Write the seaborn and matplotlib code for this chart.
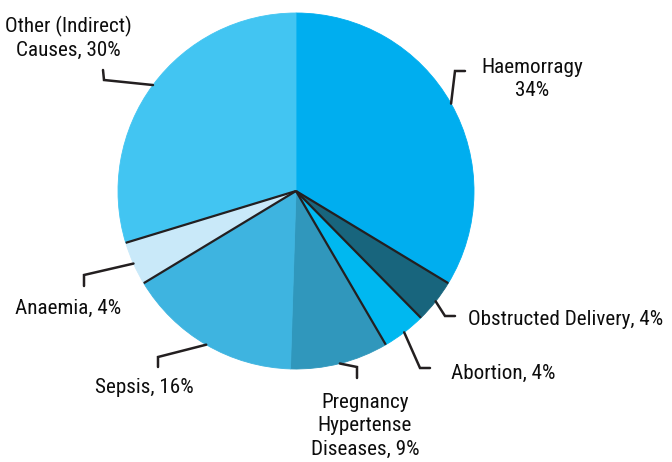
import numpy as np
import matplotlib
matplotlib.use("Agg")
import matplotlib.pyplot as plt
import seaborn as sns
from matplotlib import font_manager

categories = ["Haemorragy", "Obstructed Delivery", "Abortion",
              "Pregnancy Hypertense Diseases", "Sepsis", "Anaemia",
              "Other (Indirect) Causes"]
values = [34, 4, 4, 9, 16, 4, 30]
labels = ["Haemorragy\n34%", "Obstructed Delivery, 4%", "Abortion, 4%",
          "Pregnancy\nHypertense\nDiseases, 9%", "Sepsis, 16%", "Anaemia, 4%",
          "Other (Indirect)\nCauses, 30%"]
colors = ["#00AEEF", "#18657D", "#00B8F0", "#3097BC", "#3EB4E0", "#C9E9F9", "#42C5F2"]
# boundaries (after wedge i) that show a dark divider line
dark_after = [0, 1, 2, 4, 5]

sns.set_theme(style="white")
avail = {f.name for f in font_manager.fontManager.ttflist}
fam = [f for f in ["Roboto Condensed", "Archivo Narrow", "PT Sans Narrow"] if f in avail] + ["DejaVu Sans"]
plt.rcParams["font.family"] = fam

W, H = 672, 462
CX, CY, R = 296, 191, 178

fig = plt.figure(figsize=(W / 100, H / 100), dpi=100)
ax = fig.add_axes([0, 0, 1, 1])

def p2d(px, py):
    return ((px - CX) / R, (CY - py) / R)

wedges, _ = ax.pie(values, colors=colors, startangle=90, counterclock=False,
                   radius=1.0, center=(0, 0), frame=True,
                   wedgeprops=dict(linewidth=0.6, antialiased=True))
for w, c in zip(wedges, colors):
    w.set_edgecolor(c)
ax.set_xlim(-CX / R, (W - CX) / R)
ax.set_ylim(-(H - CY) / R, CY / R)
ax.set_aspect("equal")
ax.axis("off")

dark = "#231F20"
for i in dark_after:
    ang = np.deg2rad(wedges[i].theta1)
    ax.plot([0, np.cos(ang)], [0, np.sin(ang)], color=dark, lw=1.6,
            solid_capstyle="butt", zorder=3)

# leader line layout (elbow, end) in pixels, and text placement
leaders = [((455, 71), (465, 71)),
           ((445, 316), (455, 316)),
           ((420, 368), (430, 368)),
           ((357, 367), (357, 378)),
           ((158, 357), (158, 367)),
           ((84, 275), (84, 286)),
           ((104, 80), (103, 70))]
text_pos = [((532, 79), "center"),
            ((468, 320), "left"),
            ((451, 373), "left"),
            ((365, 426), "center"),
            ((144, 388), "center"),
            ((68, 308), "center"),
            ((68, 38), "center")]

for w, lab, (el, en), ((tx, ty), ha) in zip(wedges, labels, leaders, text_pos):
    mid = np.deg2rad((w.theta1 + w.theta2) / 2)
    sx, sy = np.cos(mid), np.sin(mid)
    ex, ey = p2d(*el)
    nx, ny = p2d(*en)
    ax.plot([sx, ex, nx], [sy, ey, ny], color=dark, lw=1.8, zorder=4,
            solid_joinstyle="miter")
    x, y = p2d(tx, ty)
    ax.text(x, y, lab, ha=ha, va="center", multialignment="center",
            fontsize=15.2, color="#0d0d0d", linespacing=1.3)

fig.savefig("out.png", dpi=100, facecolor="white")
